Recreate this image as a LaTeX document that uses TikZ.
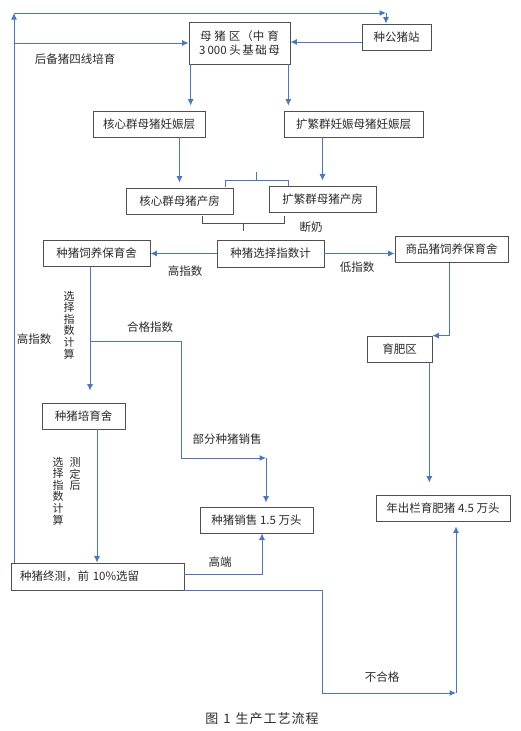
\documentclass[tikz,border=0pt]{standalone}
\usepackage{fontspec}
\setmainfont{Noto Sans CJK SC}
\usetikzlibrary{arrows.meta,positioning,calc}
\definecolor{pigBlue}{HTML}{4A78C0}
\definecolor{pigGray}{HTML}{505050}
\definecolor{pigText}{HTML}{2A2A2A}
\tikzset{
  box/.style={draw=pigGray,line width=0.7pt,minimum height=26pt,inner sep=2pt,
    align=center,text=pigText,font=\fontsize{11.5}{14}\selectfont},
  flow/.style={-{Latex[length=6.5pt,width=6pt]},line width=1pt,pigBlue},
  bracket/.style={line width=0.6pt,pigBlue},
  lbl/.style={text=pigText,font=\fontsize{11.5}{13}\selectfont,inner sep=1pt},
  vlbl/.style={align=center,inner sep=0pt,text=pigText,font=\fontsize{11}{11.6}\selectfont}
}

\begin{document}
\begin{tikzpicture}[x=1pt,y=-1pt]
  \useasboundingbox (0,0) rectangle (521,731);
  % top: sows and boars
  \node[box,minimum width=101pt,minimum height=42pt] (sow) at (239.5,43)
       {母\hspace{3pt}猪\hspace{3pt}区\hspace{1pt}（中\hspace{3pt}育\\3\,000 头\hspace{1.5pt}基\hspace{1.5pt}础\hspace{1.5pt}母};
  \node[box,minimum width=69pt] (boar) at (396.5,37) {种公猪站};

  \node[box,minimum width=112pt] (coreg) at (149,124) {核心群母猪妊娠层};
  \node[box,minimum width=139pt] (expg) at (353.5,124) {扩繁群妊娠母猪妊娠层};
  \node[box,minimum width=107pt] (coref) at (179.5,201) {核心群母猪产房};
  \node[box,minimum width=107pt] (expf) at (322.5,199) {扩繁群母猪产房};

  % middle row
  \node[box,minimum width=107pt,minimum height=27pt] (sel) at (270.5,253.5) {种猪选择指数计};
  \node[box,minimum width=107pt] (bnurs) at (96.5,253) {种猪饲养保育舍};
  \node[box,minimum width=113pt] (cnurs) at (451.5,249.5) {商品猪饲养保育舍};
  \node[box,minimum width=65pt] (fatten) at (399.5,349) {育肥区};

  % lower part
  \node[box,minimum width=83pt] (brear) at (83.5,416) {种猪培育舍};
  \node[box,minimum width=113pt] (bsale) at (256.5,520) {种猪销售 1.5 万头};
  \node[box,minimum width=173pt,minimum height=27pt,text width=155pt,align=left]
       (final) at (97.5,576.5) {种猪终测，前 10\%选留};
  \node[box,minimum width=134pt] (fsale) at (443,508) {年出栏育肥猪 4.5 万头};

  \coordinate (topL) at (14,13);
  \coordinate (topR) at (386,13);
  \coordinate (qual) at (91,341);
  \coordinate (partR) at (266,458);
  \coordinate (reject) at (456,693);

  % high index loop back to the top
  \draw[flow] (final.north -| topL) -- (topL);
  \draw[flow] (topL) -- (topR);
  \draw[flow] (topR) -- (topR |- boar.north);
  \draw[flow] (sow.west -| topL) -- (sow.west);
  \draw[flow] ([yshift=-5pt]boar.west) -- ([yshift=-5pt]boar.west -| sow.east);

  \draw[flow,shorten >=5pt] ([xshift=2pt]sow.south west) -- ([xshift=2pt]sow.south west |- coreg.north);
  \draw[flow,shorten >=5pt] ([xshift=-2pt]sow.south east) -- ([xshift=-2pt]sow.south east |- expg.north);
  \draw[flow,shorten >=5pt] (coreg.south -| coref.north) -- (coref.north);
  \draw[flow,shorten >=5pt] (expg.south -| expf.north) -- (expf.north);

  \draw[bracket] (225,187) -- (225,180) -- (288,180) -- (288,186) (256,180) -- (256,172);
  \draw[bracket,pigGray] (202,216) -- (202,223) -- (284,223) -- (284,216) (243,223) -- (243,231);

  \draw[flow] (sel.west) -- (sel.west -| bnurs.east);
  \draw[flow] (sel.east) -- (sel.east -| cnurs.west);
  \draw[flow] ([xshift=-2.5pt]cnurs.south) |- (fatten.north east);
  \draw[flow,shorten >=12pt] ([xshift=-3pt]fatten.south east) -- ([xshift=-3pt]fatten.south east |- fsale.north);

  \draw[flow,shorten >=12pt] ([xshift=-6.5pt]bnurs.south) -- ([xshift=-6.5pt]bnurs.south |- brear.north);
  \draw[flow] (qual) -- ++(90,0) |- (partR);
  \draw[flow,shorten >=4pt] (partR) -- (partR |- bsale.north);
  \draw[flow] ([xshift=13.5pt]brear.south) -- ([xshift=13.5pt]brear.south |- final.north);
  \draw[flow] ([yshift=2.5pt]final.east) -| ([xshift=5.5pt]bsale.south);
  \draw[flow] (final.south east) -- ++(138,0) |- (reject);
  \draw[flow,shorten >=5pt] (reject) -- (reject |- fsale.south);

  % labels
  \node[lbl] (lineLbl) at (75,59) {后备猪四线培育};
  \node[lbl] (weanLbl) at (311,227) {断奶};
  \node[lbl] (hiLbl) at (185,271) {高指数};
  \node[lbl] (loLbl) at (357,267) {低指数};
  \node[lbl] (hiLoopLbl) at (34,339) {高指数};
  \node[lbl] (qualLbl) at (150,327) {合格指数};
  \node[lbl] (partLbl) at (227,439) {部分种猪销售};
  \node[lbl] (topLbl) at (220,562) {高端};
  \node[lbl] (failLbl) at (382,677) {不合格};
  \node[vlbl] (calcA) at (69,325) {选\\择\\指\\数\\计\\算};
  \node[vlbl] (calcB) at (58,491) {选\\择\\指\\数\\计\\算};
  \node[vlbl] (testLbl) at (75,474) {测\\定\\后};

  \node[text=pigText,font=\fontsize{13}{15}\selectfont] (caption) at (262,719)
       {图\hspace{5pt}1\hspace{5pt}生\hspace{1pt}产\hspace{1pt}工\hspace{1pt}艺\hspace{1pt}流\hspace{1pt}程};
\end{tikzpicture}
\end{document}
